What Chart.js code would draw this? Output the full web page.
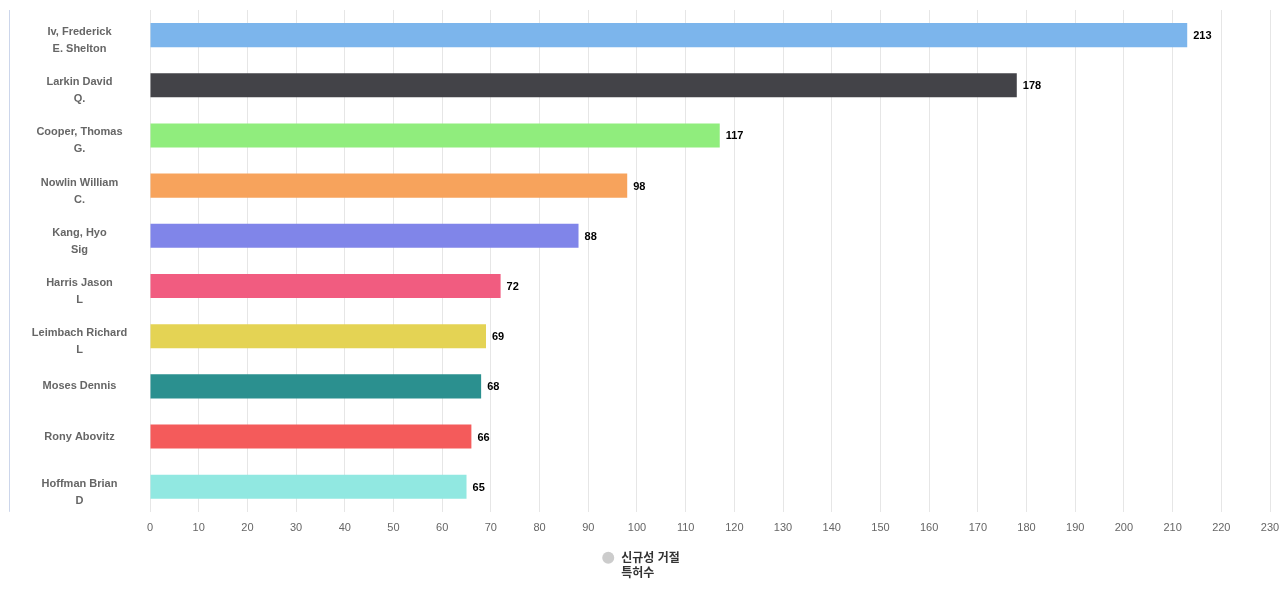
<!DOCTYPE html>
<html lang="ko">
  <head>
    <meta charset="UTF-8" />
    <title>신규성 거절 특허수</title>
    <style>
      body { margin: 0; background: #fff; }
      .wrap { width: 1280px; height: 600px; }
    </style>
  </head>
  <body>
    <div class="wrap"><canvas id="myChart"></canvas></div>
    <script src="https://cdn.jsdelivr.net/npm/chart.js"></script>
    <script>
      const labels = [
        ["Iv, Frederick", "E. Shelton"],
        ["Larkin David", "Q."],
        ["Cooper, Thomas", "G."],
        ["Nowlin William", "C."],
        ["Kang, Hyo", "Sig"],
        ["Harris Jason", "L"],
        ["Leimbach Richard", "L"],
        ["Moses Dennis"],
        ["Rony Abovitz"],
        ["Hoffman Brian", "D"]
      ];
      const counts = [213, 178, 117, 98, 88, 72, 69, 68, 66, 65];
      const colors = [
        "#7cb5ec", "#434348", "#90ed7d", "#f7a35c", "#8085e9",
        "#f15c80", "#e4d354", "#2b908f", "#f45b5b", "#91e8e1"
      ];
      const seriesName = ["신규성 거절", "특허수"];
      const fontFamily = "'Liberation Sans', 'Noto Sans CJK KR', sans-serif";

      // value labels at bar ends
      const valueLabels = {
        id: "valueLabels",
        afterDatasetsDraw(chart) {
          const ctx = chart.ctx;
          const meta = chart.getDatasetMeta(0);
          ctx.save();
          ctx.font = "bold 11px " + fontFamily;
          ctx.fillStyle = "#000";
          ctx.textBaseline = "middle";
          meta.data.forEach((bar, i) => {
            ctx.fillText(counts[i], bar.x + 6, bar.y + 1);
          });
          ctx.restore();
        }
      };

      // category labels (two-line labels sit a bit low, like the original)
      // plus the thin line on the far left
      const categoryLabels = {
        id: "categoryLabels",
        afterDraw(chart) {
          const ctx = chart.ctx;
          const area = chart.chartArea;
          const yScale = chart.scales.y;
          const cx = (yScale.left + yScale.right) / 2;
          ctx.save();
          ctx.strokeStyle = "#ccd6eb";
          ctx.lineWidth = 1;
          ctx.beginPath();
          ctx.moveTo(yScale.left + 0.5, area.top);
          ctx.lineTo(yScale.left + 0.5, area.bottom);
          ctx.stroke();

          ctx.font = "bold 11px " + fontFamily;
          ctx.fillStyle = "#666";
          ctx.textAlign = "center";
          ctx.textBaseline = "middle";
          labels.forEach((lines, i) => {
            const y = yScale.getPixelForTick(i);
            if (lines.length === 1) {
              ctx.fillText(lines[0], cx, y);
            } else {
              ctx.fillText(lines[0], cx, y - 3);
              ctx.fillText(lines[1], cx, y + 14);
            }
          });
          ctx.restore();
        }
      };

      // legend with a two-line series name
      const nameLegend = {
        id: "nameLegend",
        afterDraw(chart) {
          const ctx = chart.ctx;
          ctx.save();
          ctx.font = "bold 12px " + fontFamily;
          const textW = Math.max(...seriesName.map(t => ctx.measureText(t).width));
          const total = 12 + 7 + textW;
          const x0 = chart.width / 2 - total / 2 + 1;
          const y0 = chart.chartArea.bottom + 47;
          ctx.fillStyle = "#cccccc";
          ctx.beginPath();
          ctx.arc(x0 + 6, y0 - 1, 6, 0, Math.PI * 2);
          ctx.fill();
          ctx.fillStyle = "#333";
          ctx.textBaseline = "middle";
          seriesName.forEach((t, i) => {
            ctx.fillText(t, x0 + 19, y0 + i * 15);
          });
          ctx.restore();
        }
      };

      new Chart(document.getElementById("myChart"), {
        type: "bar",
        data: {
          labels: labels,
          datasets: [
            {
              label: seriesName.join(" "),
              data: counts,
              backgroundColor: colors,
              barPercentage: 0.96,
              categoryPercentage: 0.5
            }
          ]
        },
        options: {
          indexAxis: "y",
          responsive: true,
          maintainAspectRatio: false,
          animation: false,
          layout: { padding: { left: 9, top: 10, right: 10, bottom: 55 } },
          scales: {
            x: {
              min: 0,
              max: 230,
              ticks: {
                stepSize: 10,
                color: "#666",
                padding: 10,
                font: { family: fontFamily, size: 11 }
              },
              grid: { color: "#e6e6e6", drawTicks: false },
              border: { display: false },
              afterFit: s => { s.paddingRight = 0; }
            },
            y: {
              ticks: { display: false },
              grid: { display: false },
              border: { display: false },
              afterFit: s => {
                s.width = 141;
                s.paddingTop = 0;
                s.paddingBottom = 0;
              }
            }
          },
          plugins: {
            legend: { display: false },
            tooltip: { enabled: false }
          }
        },
        plugins: [valueLabels, categoryLabels, nameLegend]
      });
    </script>
  </body>
</html>
